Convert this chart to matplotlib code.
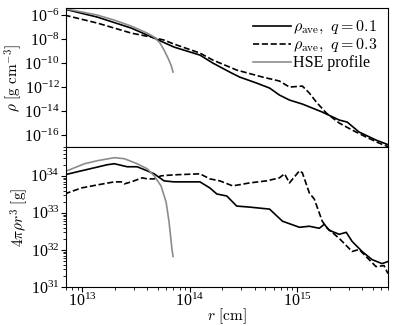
import numpy as np
import matplotlib
matplotlib.use("Agg")
import matplotlib.pyplot as plt

plt.rcParams['font.family'] = ['Liberation Serif', 'DejaVu Serif']
plt.rcParams['mathtext.fontset'] = 'cm'
plt.rcParams['font.size'] = 12

# ---- top panel: density (log10 r [cm], log10 rho [g cm^-3]) ----
lr_rho_q01 = [12.833, 13.139, 13.454, 13.667, 13.852, 14.093, 14.213, 14.370, 14.463, 14.620,
              14.741, 14.833, 14.926, 15.046, 15.231, 15.389, 15.463, 15.574, 15.731, 15.852]
lrho_q01 = [-5.5, -6.167, -7.083, -7.917, -8.667, -9.333, -10.0, -10.75, -11.167, -11.667,
            -12.083, -12.667, -13.083, -13.417, -14.083, -14.75, -14.917, -15.75, -16.417, -16.833]

lr_rho_q03 = [12.833, 13.139, 13.454, 13.639, 13.759, 13.852, 14.093, 14.213, 14.435, 14.676,
              14.833, 14.926, 15.046, 15.111, 15.176, 15.269, 15.389, 15.509, 15.639, 15.759, 15.852]
lrho_q03 = [-6.0, -6.667, -7.5, -7.833, -8.083, -8.417, -9.167, -9.75, -10.583, -11.167,
            -11.5, -12.0, -11.917, -12.5, -13.25, -14.167, -15.0, -15.583, -16.167, -16.667, -17.0]

lr_rho_hse = [12.833, 13.139, 13.296, 13.454, 13.602, 13.667, 13.722, 13.759, 13.796, 13.824, 13.843]
lrho_hse = [-5.458, -6.0, -6.417, -6.917, -7.5, -7.833, -8.333, -8.917, -9.583, -10.167, -10.75]

# ---- bottom panel: 4 pi rho r^3 (log10 r [cm], log10 M [g]) ----
lr_m_q01 = [12.833, 12.991, 13.231, 13.296, 13.417, 13.509, 13.602, 13.667, 13.759, 13.852,
            14.093, 14.185, 14.25, 14.343, 14.435, 14.556, 14.648, 14.741, 14.861, 15.019,
            15.111, 15.204, 15.25, 15.296, 15.389, 15.454, 15.509, 15.602, 15.694, 15.787, 15.843]
lm_q01 = [34.027, 34.136, 34.300, 34.327, 34.245, 34.245, 34.136, 34.054, 33.864, 33.837,
          33.837, 33.673, 33.510, 33.455, 33.183, 33.155, 33.128, 33.101, 32.774, 32.610,
          32.638, 32.583, 32.692, 32.529, 32.420, 32.474, 32.229, 31.956, 31.738, 31.629, 31.684]

lr_m_q03 = [12.833, 12.991, 13.139, 13.296, 13.361, 13.389, 13.454, 13.556, 13.602, 13.667,
            13.731, 13.852, 14.093, 14.185, 14.278, 14.398, 14.556, 14.713, 14.833, 14.880,
            14.926, 15.019, 15.046, 15.111, 15.157, 15.231, 15.278, 15.389, 15.509, 15.574,
            15.639, 15.731, 15.806, 15.843]
lm_q03 = [33.510, 33.673, 33.755, 33.837, 33.837, 33.782, 33.837, 33.946, 33.918, 33.918,
          34.0, 34.027, 34.054, 33.918, 33.864, 33.728, 33.809, 33.864, 33.946, 34.054,
          33.809, 34.136, 34.082, 33.537, 33.373, 32.774, 32.583, 32.311, 31.956, 32.011,
          31.820, 31.548, 31.575, 31.357]

lr_m_hse = [12.833, 13.019, 13.139, 13.296, 13.389, 13.509, 13.602, 13.667, 13.731, 13.778,
            13.806, 13.833, 13.843]
lm_hse = [34.109, 34.327, 34.409, 34.490, 34.463, 34.327, 34.191, 34.0, 33.728, 33.292,
          32.747, 32.011, 31.820]

labels = [r'$\rho_{\rm ave},\ q=0.1$', r'$\rho_{\rm ave},\ q=0.3$', 'HSE profile']

def p(a):
    return 10.0 ** np.asarray(a)

fig = plt.figure(figsize=(3.99, 3.26), dpi=100)
ax1 = fig.add_axes([0.165, 0.549, 0.808, 0.426])
ax2 = fig.add_axes([0.165, 0.120, 0.808, 0.429], sharex=ax1)

lw = 1.2
ax1.plot(p(lr_rho_q01), p(lrho_q01), color='black', lw=lw, label=labels[0])
ax1.plot(p(lr_rho_q03), p(lrho_q03), color='black', lw=lw, ls='--', label=labels[1])
ax1.plot(p(lr_rho_hse), p(lrho_hse), color='#8c8c8c', lw=lw, label=labels[2])

ax2.plot(p(lr_m_q01), p(lm_q01), color='black', lw=lw)
ax2.plot(p(lr_m_q03), p(lm_q03), color='black', lw=lw, ls='--')
ax2.plot(p(lr_m_hse), p(lm_hse), color='#8c8c8c', lw=lw)

for ax in (ax1, ax2):
    ax.set_xscale('log')
    ax.set_yscale('log')
    ax.tick_params(axis='both', which='both', pad=1.0, labelsize=11.5)
ax1.set_xlim(7e12, 7e15)
ax1.set_ylim(1e-17, 3.8e-6)
ax2.set_ylim(1e31, 6e34)

ax1.set_yticks([1e-16, 1e-14, 1e-12, 1e-10, 1e-8, 1e-6])
ax1.yaxis.set_minor_locator(matplotlib.ticker.NullLocator())
ax1.tick_params(axis='x', which='both', bottom=False, labelbottom=False)

ax2.set_xticks([1e13, 1e14, 1e15])
ax2.set_yticks([1e31, 1e32, 1e33, 1e34])

ax1.set_ylabel(r'$\rho\ [{\rm g\ cm^{-3}}]$', fontsize=11, labelpad=0)
ax2.set_ylabel(r'$4\pi\rho r^3\ [{\rm g}]$', fontsize=11, labelpad=0)
ax2.set_xlabel(r'$r\ [{\rm cm}]$', fontsize=11, labelpad=-3)

ax1.legend(loc='upper right', frameon=False, handlelength=2.4, handletextpad=0.1,
           labelspacing=0.05, borderaxespad=0.3, fontsize=11.5)

fig.savefig('out.png', dpi=100)
